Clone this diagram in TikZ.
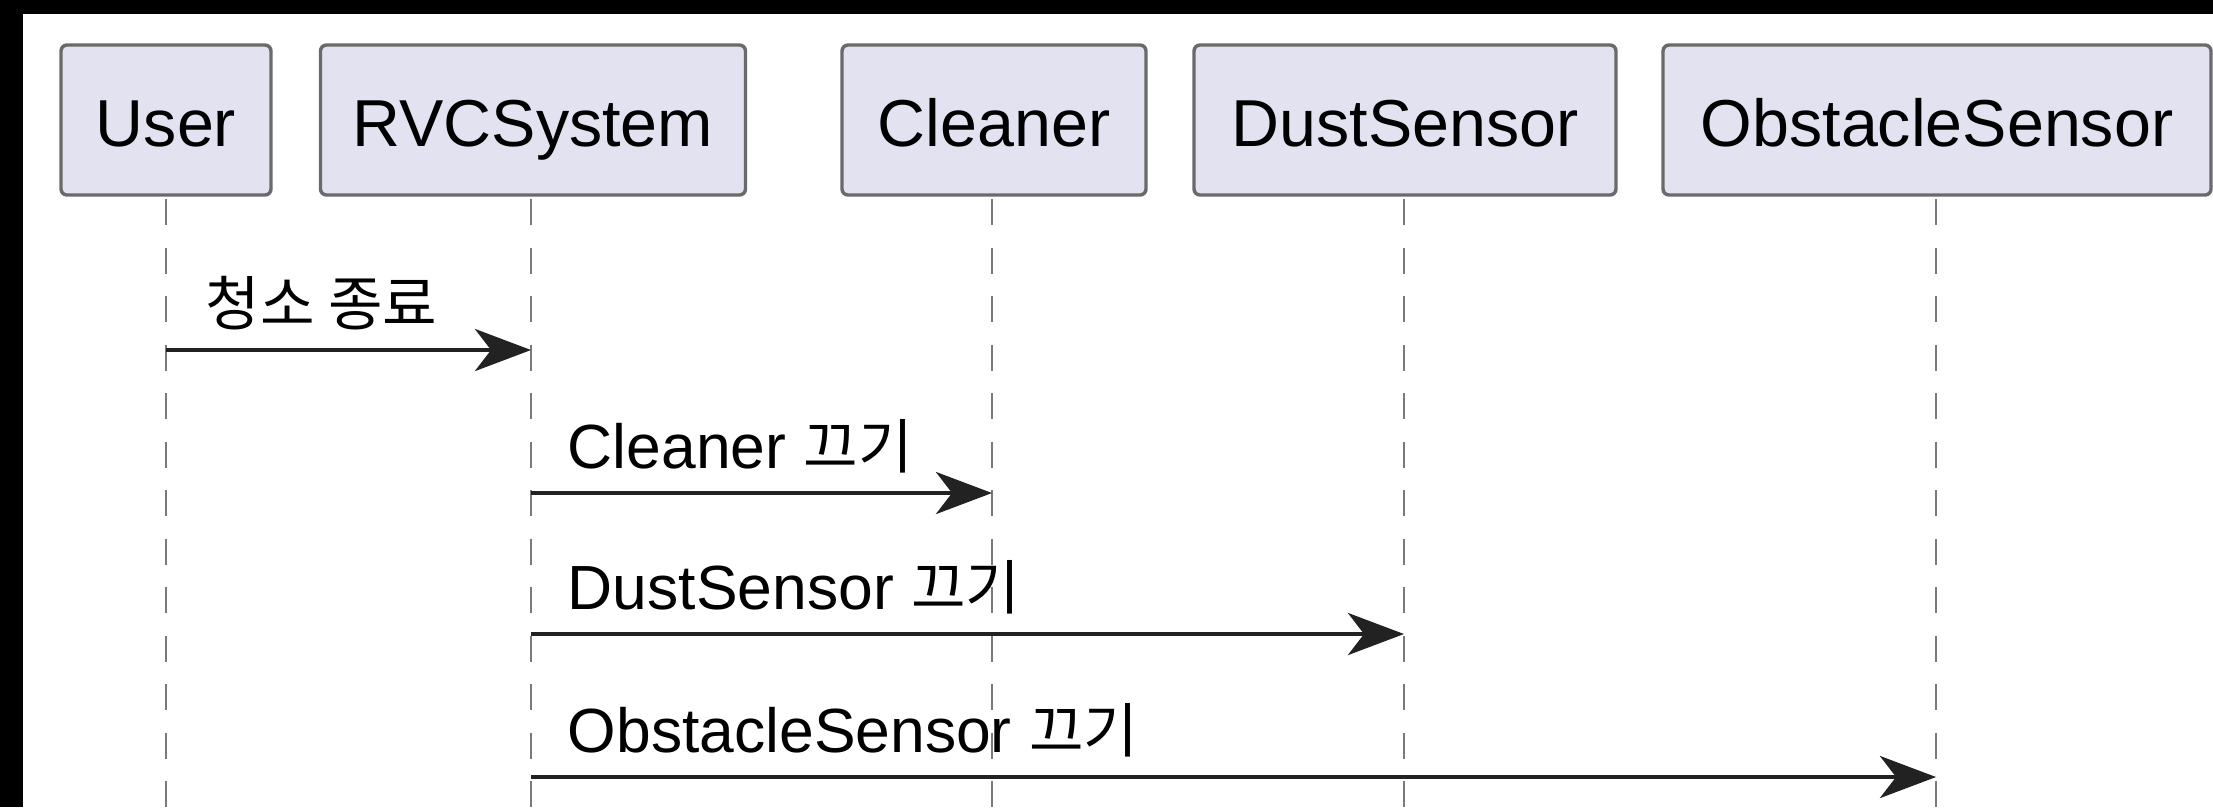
\documentclass[tikz,border=0pt]{standalone}
\usepackage{fontspec}
\setmainfont{Liberation Sans}
\newfontfamily\krfont[Scale=0.95]{Noto Sans CJK KR}
\usetikzlibrary{arrows.meta}
\definecolor{boxfill}{HTML}{E2E2F0}
\definecolor{boxline}{HTML}{6A6A6A}
\definecolor{lifecol}{HTML}{7A7A7A}
\definecolor{msgcol}{HTML}{222222}
\tikzset{
  participant/.style={draw=boxline, fill=boxfill, line width=0.85pt, rounded corners=1.5pt,
    minimum height=37.5pt, inner sep=0pt, text=black, text height=13pt, text depth=0pt,
    font=\fontsize{16.6pt}{20pt}\selectfont},
  lifelinestyle/.style={draw=lifecol, line width=0.65pt, dash pattern=on 6.5pt off 5.625pt},
  msg/.style={draw=msgcol, line width=1.15pt, -{Stealth[length=14pt,width=10.5pt,inset=4pt]}},
  msglabel/.style={anchor=base west, inner sep=0pt, text=black,
    font=\fontsize{15.6pt}{19pt}\selectfont}
}
\begin{document}
\begin{tikzpicture}[x=0.25pt,y=-0.25pt]
\fill[black] (0,0) rectangle (2213,807);
\fill[white] (23,14) rectangle (2213,807);
\useasboundingbox (0,0) rectangle (2213,807);

% participants
\node[participant, minimum width=52.5pt]  (user)  at (166,120)  {User};
\node[participant, minimum width=106.25pt] (rvc)  at (533,120)  {RVCSystem};
\node[participant, minimum width=76pt]    (clean) at (994,120)  {Cleaner};
\node[participant, minimum width=105.5pt] (dust)  at (1405,120) {DustSensor};
\node[participant, minimum width=137pt]   (obst)  at (1937,120) {ObstacleSensor};

% lifeline ends
\coordinate (uT) at (166,199);  \coordinate (uB) at (166,807);
\coordinate (rT) at (531,199);  \coordinate (rB) at (531,807);
\coordinate (cT) at (992,199);  \coordinate (cB) at (992,807);
\coordinate (dT) at (1404,199); \coordinate (dB) at (1404,807);
\coordinate (oT) at (1936,199); \coordinate (oB) at (1936,807);

\draw[lifelinestyle] (uT) -- (uB);
\draw[lifelinestyle] (rT) -- (rB);
\draw[lifelinestyle] (cT) -- (cB);
\draw[lifelinestyle] (dT) -- (dB);
\draw[lifelinestyle] (oT) -- (oB);

% message points
\coordinate (m1s) at (166,350);  \coordinate (m1e) at (531,350);
\coordinate (m2s) at (531,493);  \coordinate (m2e) at (992,493);
\coordinate (m3s) at (531,634);  \coordinate (m3e) at (1404,634);
\coordinate (m4s) at (531,777);  \coordinate (m4e) at (1936,777);

\draw[msg] (m1s) -- (m1e);
\draw[msg] (m2s) -- (m2e);
\draw[msg] (m3s) -- (m3e);
\draw[msg] (m4s) -- (m4e);

\node[msglabel] (l1) at (205,325) {\krfont 청소 종료};
\node[msglabel] (l2) at (567,468) {Cleaner {\krfont 끄기}};
\node[msglabel] (l3) at (567,609) {DustSensor {\krfont 끄기}};
\node[msglabel] (l4) at (567,752) {ObstacleSensor {\krfont 끄기}};
\end{tikzpicture}
\end{document}
